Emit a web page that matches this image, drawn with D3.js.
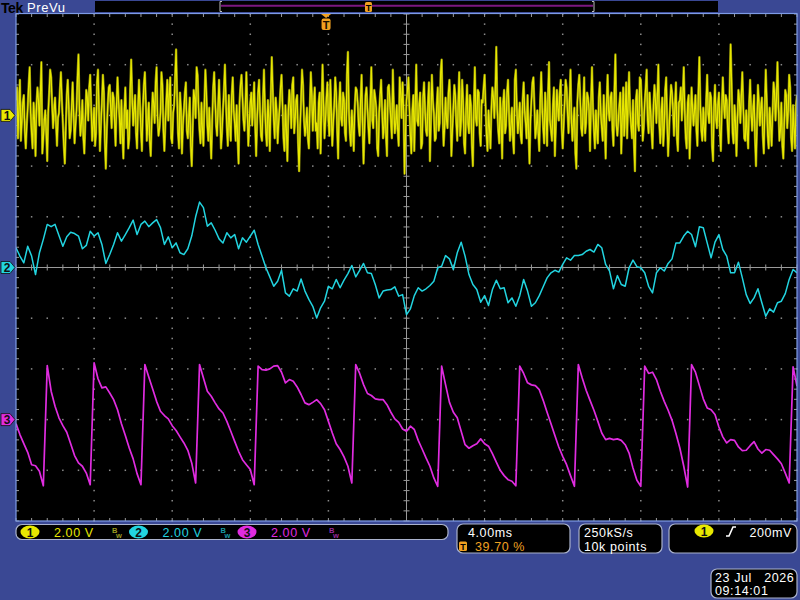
<!DOCTYPE html>
<html>
<head>
<meta charset="utf-8">
<script src="https://cdn.jsdelivr.net/npm/d3@7"></script>
<style>
  body { margin: 0; background: #3a4894; }
  svg { display: block; }
  text { font-family: "Liberation Sans", Arial, sans-serif; white-space: pre; }
</style>
</head>
<body>
<div id="scope"></div>
<script>
// scope settings
const timePerDiv = 4.0;      // ms / div
const triggerPct = 39.70;    // trigger position in record
const voltsPerDiv = 2.0;
const ch1Offset = 3, ch2Offset = 0, ch3Offset = -3;   // divisions
const dtSlow = 0.2, dtFast = 0.05;                     // ms per stored sample

// channel 1 (yellow) noise, 0.05 ms apart, volts
const ch1Volts = [
  0.6,1.1,-0.9,0.3,1.4,-1.0,-0.2,0.5,0.8,-0.6,-1.3,-0.4,0.3,1.2,1.9,0.1,-0.7,-1.3,0.5,-0.2,-1.6,0.4,1.1,0.6,-0.4,0.9,2.1,-1.5,-0.9,-0.2,0.2,-0.7,-1.8,0.1,0.9,1.8,1.5,0.4,-0.5,0.2,
  0.7,-0.3,-1.2,-0.1,0.1,1.0,1.7,0.6,-0.3,-1.2,-1.9,-0.5,0.8,1.4,0.4,-0.9,-0.6,0.3,1.3,0.1,-1.1,-0.4,0.2,1.5,2.4,0.2,-0.8,-0.3,0.6,-0.9,-1.5,-0.2,1.0,0.7,-0.2,1.1,1.6,0.3,-1.0,-0.4,
  0.3,-1.2,-0.7,1.3,1.8,0.2,-1.4,-0.4,0.5,1.6,0.9,-1.0,-2.1,-0.6,0.4,1.1,1.2,0.3,-0.5,0.9,0.7,-0.2,-1.2,0.4,1.5,0.6,-0.1,-1.1,0.6,-0.8,-1.7,0.2,1.1,-0.5,0.2,-1.3,-0.9,1.0,2.2,0.7,
  -0.4,0.2,0.8,-0.7,-1.3,0.3,1.4,0.4,-0.6,-1.4,0.3,1.2,1.7,0.5,-1.0,-0.3,0.5,-1.0,-1.6,-0.2,0.9,0.5,-0.3,1.3,1.9,-0.1,-0.8,-0.5,0.1,1.7,1.2,-0.6,-1.4,-0.3,0.6,1.4,-0.2,0.8,1.5,-0.9,
  -1.1,0.1,0.4,1.5,2.6,0.8,-0.7,-1.3,0.9,0.2,-1.5,-0.4,0.2,0.9,1.3,-0.6,-0.9,-0.1,0.7,-1.2,-2.0,-0.5,1.0,0.7,-0.1,1.9,1.6,0.3,-0.6,-1.1,0.5,-0.6,-1.2,0.5,1.8,0.9,-0.4,-1.0,0.3,-0.8,
  -1.7,-0.2,1.1,1.7,0.6,-0.4,-0.8,0.3,1.4,0.2,-1.3,-0.7,0.2,1.0,2.0,0.6,-0.5,-1.2,0.8,-0.4,-1.0,0.8,1.5,0.2,-0.3,-1.0,0.4,-0.9,-1.9,0.5,1.2,1.6,0.7,-0.2,-0.6,0.4,1.7,0.1,-1.2,-0.3,
  0.5,0.9,-0.4,0.5,1.3,-0.4,-1.6,-0.2,0.9,1.4,0.1,-0.8,-1.0,0.6,1.8,0.3,-0.7,-1.2,0.6,-0.1,-1.4,0.7,2.3,1.0,-0.2,-0.9,0.7,0.2,-1.1,-0.3,0.3,1.1,1.6,0.4,-0.9,-1.4,0.4,-0.6,-1.8,0.2,
  1.0,0.4,-0.5,1.2,1.5,-0.7,-0.1,0.6,0.8,-1.1,-2.2,-0.5,0.6,1.8,1.2,-0.2,-0.8,-0.4,0.3,-0.9,-1.3,0.3,1.7,0.8,-0.6,0.4,1.1,-0.6,-0.3,-1.3,0.5,0.9,-1.5,0.2,2.0,0.5,-0.9,-0.2,0.7,1.3,
  -0.2,-0.8,1.4,0.1,-1.2,-0.3,0.4,1.5,0.9,-0.6,-1.7,0.4,1.3,-0.1,-0.4,0.9,0.6,-0.7,-1.0,1.6,2.5,0.2,-0.7,-1.2,0.2,-0.5,-1.4,0.3,1.1,1.0,0.5,-0.4,-0.8,0.6,1.6,-0.3,-1.9,-0.6,0.8,1.1,
  0.3,-0.5,-1.1,0.6,1.9,-0.2,-0.5,1.0,0.7,0.3,-1.3,-1.6,0.1,0.8,1.4,0.2,-0.9,-0.4,0.6,-0.8,-1.6,1.1,1.2,0.5,-0.2,-0.9,1.8,0.4,-0.7,-0.3,0.4,-0.6,-1.2,1.5,0.9,-0.1,1.3,0.2,-2.3,-0.7,
  0.6,1.0,1.5,0.3,-0.8,-1.5,0.2,0.8,-1.4,0.5,2.0,-0.2,-0.4,0.4,0.9,-1.3,-1.1,0.7,1.3,0.2,-0.6,-0.8,0.5,1.3,-1.8,-0.3,1.6,0.6,0.1,-1.0,-0.9,0.4,1.1,-0.6,-0.3,1.7,2.2,0.1,-1.2,-0.5,
  0.7,-0.2,-0.5,0.9,1.4,0.3,-1.6,-0.6,0.3,1.2,0.8,-0.3,-1.0,0.5,1.7,-0.8,-0.2,1.4,0.6,-1.1,-1.5,0.2,1.2,-0.3,-0.7,0.8,0.4,-1.2,-2.0,0.3,1.9,-0.1,-0.4,1.0,0.9,-0.7,-1.2,0.6,0.5,1.1,
  1.6,0.4,-0.8,-1.4,0.2,-0.5,-1.3,0.3,1.1,0.7,-0.1,1.0,2.7,0.2,-0.6,-1.1,0.7,-0.3,-1.7,0.5,1.0,-0.7,-0.4,0.9,1.4,0.1,-1.0,-0.4,0.3,-0.9,-1.5,1.4,1.8,0.3,-0.7,-0.2,0.5,-0.8,-1.1,0.6,
  1.3,0.2,-0.3,-0.9,0.8,-0.6,-1.9,-0.2,0.6,1.3,1.5,0.4,-0.9,-0.5,0.2,-0.7,-1.4,0.6,1.7,0.3,-0.5,-1.1,0.9,0.1,-1.2,0.8,2.1,-0.2,-0.6,-1.0,0.4,1.1,-1.6,-0.4,1.0,0.3,-0.2,0.9,1.4,-0.5,
  -1.3,-0.4,0.5,1.4,1.1,0.1,-0.7,0.6,1.8,-0.3,-1.0,-0.2,0.3,-1.5,-2.1,0.5,1.2,1.6,0.6,-0.5,-0.8,0.4,1.5,-0.7,-0.3,0.9,0.7,0.2,-1.4,0.5,1.9,0.3,-0.6,-1.3,0.2,-0.6,-1.1,0.7,1.3,0.1,
  -0.5,-1.0,0.8,-0.3,-1.7,0.4,1.6,0.2,-0.2,0.7,0.9,-0.6,-1.2,1.0,2.4,-0.4,-0.8,-0.2,0.4,0.9,-1.5,-0.1,1.1,-0.8,0.1,1.3,-0.9,0.5,1.7,0.2,-0.4,-0.9,0.6,-1.1,-2.2,0.6,1.0,-0.3,-0.6,1.5,
  1.4,0.3,-1.0,-0.5,0.5,1.1,1.8,-0.2,-0.7,0.9,0.2,-0.7,-1.3,0.4,1.2,0.6,-0.3,0.8,2.0,-0.4,-1.1,0.1,0.7,-1.2,-0.5,1.0,1.5,-0.3,-1.6,-0.6,0.4,1.2,0.9,0.2,-0.8,0.4,1.3,-0.9,-1.4,0.5,
  0.6,1.1,-0.2,0.7,1.9,0.2,-0.9,-1.3,0.5,0.8,-1.7,-0.4,1.1,0.3,-0.4,0.2,0.8,-0.6,-1.2,0.9,2.3,0.4,-0.6,-1.0,0.3,-0.5,-1.0,0.6,1.6,0.1,-0.3,0.9,0.7,-1.2,-1.8,0.3,1.2,-0.1,-0.5,0.4,
  0.9,-0.6,-1.4,0.2,1.5,0.5,-0.1,0.8,0.6,-0.5,-1.1,0.9,2.8,1.3,-0.7,-1.1,0.4,-0.3,-1.6,-0.2,1.0,0.6,-0.3,0.8,1.7,0.3,-0.9,-1.0,0.2,-0.7,-1.3,0.5,1.4,0.1,-0.6,0.2,0.8,-0.9,-2.0,-0.4,
  1.2,0.5,-0.4,0.3,0.7,-0.8,-1.5,0.2,1.8,0.6,-0.8,-1.3,0.3,-0.4,-1.2,0.1,1.3,0.9,-0.2,0.7,2.1,0.4,-1.0,-0.6,0.5,-1.2,-1.7,-0.2,1.0,0.8,-0.5,0.2,1.6,1.1,-0.9,-1.4,0.4,-0.5,-1.3,0.4,
  0.8
];

// channel 2 (cyan) wander, 0.2 ms apart, volts
const ch2Volts = [
  0.78,0.45,0.18,0.84,0.45,-0.28,0.58,1.11,1.70,1.61,
  1.70,1.26,0.84,1.21,1.39,1.34,1.24,0.74,0.87,1.43,
  1.24,1.37,0.91,0.16,0.51,0.91,1.37,1.04,1.30,1.57,
  1.87,1.30,1.70,1.83,1.61,1.76,1.89,1.57,0.91,1.21,
  0.78,0.97,0.58,0.51,0.74,1.24,2.00,2.58,2.36,1.63,
  1.76,1.47,1.13,0.97,1.37,1.17,1.30,0.74,1.17,1.00,
  1.24,1.47,0.91,0.45,-0.01,-0.37,-0.74,-0.54,-0.11,-1.00,
  -1.13,-0.84,-0.93,-0.45,-0.93,-1.26,-1.53,-1.99,-1.59,-1.33,
  -0.74,-0.84,-0.47,-0.80,-0.50,-0.24,0.08,-0.37,-0.11,0.16,
  -0.21,-0.24,-0.67,-1.20,-0.93,-0.89,-0.87,-0.76,-1.13,-1.07,
  -1.86,-1.63,-1.11,-0.80,-0.93,-0.84,-0.71,-0.54,-0.01,0.05,
  0.47,0.34,-0.08,0.58,1.00,0.45,-0.28,-0.67,-0.87,-1.37,
  -1.11,-1.50,-0.87,-0.50,-0.84,-0.80,-1.39,-1.20,-1.53,-1.11,
  -0.47,-0.93,-1.53,-1.39,-1.11,-0.76,-0.41,-0.21,-0.11,-0.18,
  0.12,0.38,0.29,0.47,0.47,0.51,0.64,0.71,0.61,0.91,
  0.78,0.12,-0.14,-0.84,-0.32,-0.67,-0.74,-0.01,0.29,0.03,
  -0.01,-0.21,-0.74,-1.00,-0.21,-0.01,-0.14,0.16,0.34,0.97,
  0.97,1.24,1.43,1.30,0.82,1.61,1.57,0.97,0.38,1.00,
  1.30,0.71,0.45,-0.21,-0.21,0.21,-0.41,-1.07,-1.42,-1.20,
  -0.84,-1.39,-1.92,-1.63,-1.76,-1.39,-1.33,-1.03,-0.47,-0.08,
  -0.21
];

// channel 3 (magenta) sawtooth, 0.2 ms apart, volts
const ch3Volts = [
  -0.16,-0.59,-0.95,-1.29,-1.78,-1.82,-2.04,-2.61,2.13,1.12,
  0.53,0.07,-0.24,-0.50,-0.95,-1.42,-1.71,-1.84,-2.11,-2.57,
  2.24,1.61,1.25,1.29,1.05,0.79,0.39,-0.16,-0.63,-1.12,
  -1.55,-2.13,-2.57,2.17,1.68,1.21,0.72,0.33,0.16,0.03,
  -0.24,-0.43,-0.68,-0.92,-1.21,-1.71,-2.50,2.17,1.64,1.12,
  0.92,0.66,0.42,0.26,-0.07,-0.46,-0.86,-1.25,-1.58,-1.78,
  -1.97,-2.57,2.11,1.97,1.95,2.00,2.11,2.13,1.87,1.45,
  1.58,1.51,1.29,0.99,0.66,0.59,0.68,0.79,0.63,0.39,
  -0.07,-0.53,-0.95,-1.18,-1.47,-1.84,-2.50,2.17,1.82,1.38,
  1.03,0.95,0.82,0.79,0.79,0.59,0.29,0.03,-0.11,-0.37,
  -0.46,-0.26,-0.39,-0.82,-1.16,-1.51,-1.84,-2.30,-2.63,2.11,
  1.38,0.68,0.29,0.07,-0.46,-0.99,-1.13,-1.03,-0.95,-0.76,
  -0.95,-1.05,-1.34,-1.68,-2.00,-2.21,-2.37,-2.43,-2.61,2.11,
  1.82,1.45,1.37,1.34,1.18,0.76,0.29,-0.16,-0.63,-1.08,
  -1.45,-1.78,-2.21,-2.63,2.17,1.64,1.16,0.76,0.37,-0.07,
  -0.53,-0.79,-0.74,-0.79,-0.76,-0.82,-0.99,-1.32,-1.91,-2.39,
  -2.63,2.11,1.82,1.87,1.58,1.12,0.72,0.37,-0.03,-0.55,
  -1.12,-1.84,-2.66,2.17,1.87,1.34,0.82,0.46,0.39,0.20,
  -0.29,-0.68,-0.92,-0.79,-0.82,-1.08,-1.22,-1.21,-1.03,-0.87,
  -1.16,-1.32,-1.18,-1.21,-1.38,-1.55,-1.74,-2.11,-2.50,2.08,
  1.32
];

const chanNames = ["1", "2", "3"];
const chanScales = ["2.00 V", "2.00 V", "2.00 V"];
const chanColors = ["#e8e800", "#22d4e0", "#e02ce0"];
const bwColors = ["#9a9a20", "#1a9aa4", "#9a2a9a"];
const timebaseLabel = "4.00ms";
const trigPosLabel = "39.70 %";
const sampleLabels = ["250kS/s", "10k points"];
const trigLevelLabel = "200mV";
const dateLabels = ["23 Jul   2026", "09:14:01"];

const width = 800, height = 600;
const gLeft = 16, gRight = 797, gTop = 14, gBottom = 521;

const tStart = -triggerPct / 100 * 10 * timePerDiv;
const x = d3.scaleLinear().domain([tStart, tStart + 10 * timePerDiv]).range([gLeft, gRight]);
const y = d3.scaleLinear().domain([-5, 5]).range([gBottom, gTop]);   // divisions

const svg = d3.select("#scope").append("svg")
  .attr("width", width).attr("height", height);

svg.append("rect").attr("width", width).attr("height", height).attr("fill", "#3a4894");

// ---- top bar
svg.append("text").attr("x", 1).attr("y", 13).attr("font-size", 14).attr("font-weight", "bold")
  .attr("fill", "#000").attr("letter-spacing", -0.4).text("Tek");
svg.append("text").attr("x", 27).attr("y", 11.5).attr("font-size", 13)
  .attr("fill", "#fff").attr("letter-spacing", 0.6).text("PreVu");
svg.append("rect").attr("x", 95).attr("y", 1).attr("width", 623).attr("height", 11).attr("fill", "#000");
svg.append("line").attr("x1", 221).attr("x2", 593).attr("y1", 5.8).attr("y2", 5.8)
  .attr("stroke", "#7c1880").attr("stroke-width", 2);
[220, 594].forEach((bx, k) => {
  svg.append("path")
    .attr("d", k === 0 ? `M${bx + 2},1.5 H${bx} V11.5 H${bx + 2}` : `M${bx - 2},1.5 H${bx} V11.5 H${bx - 2}`)
    .attr("fill", "none").attr("stroke", "#bbb").attr("stroke-width", 1);
});
const recX = 220 + triggerPct / 100 * (594 - 220);
svg.append("rect").attr("x", recX - 3.5).attr("y", 2).attr("width", 7).attr("height", 10).attr("rx", 1.5).attr("fill", "#f0a020");
svg.append("text").attr("x", recX).attr("y", 10.5).attr("text-anchor", "middle").attr("font-size", 9)
  .attr("font-weight", "bold").attr("fill", "#000").text("T");

// ---- graticule
svg.append("rect").attr("x", gLeft).attr("y", gTop).attr("width", gRight - gLeft).attr("height", gBottom - gTop)
  .attr("fill", "#000");

const g = svg.append("g");
const divX = d => gLeft + (gRight - gLeft) * d / 10;
const minorX = d3.range(0, 50.5).map(m => m / 5);     // 0..10 by 0.2
const minorY = d3.range(0, 50.5).map(m => -5 + m / 5); // -5..5 by 0.2
const dotColor = "#8c8c8c";

// dotted major lines
d3.range(1, 10).filter(k => k !== 5).forEach(k => {
  g.selectAll(null).data(minorY).enter().append("rect")
    .attr("x", divX(k) - 0.75).attr("y", d => y(d) - 0.75)
    .attr("width", 1.5).attr("height", 1.5).attr("fill", dotColor);
});
d3.range(-4, 5).filter(k => k !== 0).forEach(k => {
  g.selectAll(null).data(minorX).enter().append("rect")
    .attr("x", d => divX(d) - 0.75).attr("y", y(k) - 0.75)
    .attr("width", 1.5).attr("height", 1.5).attr("fill", dotColor);
});

// centre cross with minor ticks
const cx = divX(5), cy = y(0);
g.append("line").attr("x1", gLeft).attr("x2", gRight).attr("y1", cy).attr("y2", cy).attr("stroke", "#9a9a9a");
g.append("line").attr("x1", cx).attr("x2", cx).attr("y1", gTop).attr("y2", gBottom).attr("stroke", "#9a9a9a");
g.selectAll(null).data(minorX).enter().append("line")
  .attr("x1", d => divX(d)).attr("x2", d => divX(d)).attr("y1", cy - 3).attr("y2", cy + 3).attr("stroke", "#9a9a9a");
g.selectAll(null).data(minorY).enter().append("line")
  .attr("x1", cx - 3).attr("x2", cx + 3).attr("y1", d => y(d)).attr("y2", d => y(d)).attr("stroke", "#9a9a9a");

// edge ticks
g.selectAll(null).data(minorX).enter().append("line")
  .attr("x1", d => divX(d)).attr("x2", d => divX(d)).attr("y1", gTop).attr("y2", gTop + 3).attr("stroke", "#9a9a9a");
g.selectAll(null).data(minorX).enter().append("line")
  .attr("x1", d => divX(d)).attr("x2", d => divX(d)).attr("y1", gBottom - 3).attr("y2", gBottom).attr("stroke", "#9a9a9a");
g.selectAll(null).data(minorY).enter().append("line")
  .attr("x1", gLeft).attr("x2", gLeft + 3).attr("y1", d => y(d)).attr("y2", d => y(d)).attr("stroke", "#9a9a9a");
g.selectAll(null).data(minorY).enter().append("line")
  .attr("x1", gRight - 3).attr("x2", gRight).attr("y1", d => y(d)).attr("y2", d => y(d)).attr("stroke", "#9a9a9a");

// ---- traces
svg.append("clipPath").attr("id", "clip").append("rect")
  .attr("x", gLeft).attr("y", gTop).attr("width", gRight - gLeft).attr("height", gBottom - gTop);
const traces = svg.append("g").attr("clip-path", "url(#clip)");

function trace(values, dt, offset, color, w) {
  const line = d3.line()
    .x((d, i) => x(tStart + i * dt))
    .y(d => y(offset + d / voltsPerDiv));
  traces.append("path").datum(values).attr("d", line)
    .attr("fill", "none").attr("stroke", color).attr("stroke-width", w).attr("stroke-linejoin", "round");
}
trace(ch1Volts, dtFast, ch1Offset, "#86860a", 2.4);
trace(ch1Volts, dtFast, ch1Offset, chanColors[0], 1.2);
trace(ch2Volts, dtSlow, ch2Offset, chanColors[1], 1.5);
trace(ch3Volts, dtSlow, ch3Offset, chanColors[2], 1.7);

// frame
svg.append("rect").attr("x", gLeft).attr("y", gTop - 0.5).attr("width", gRight - gLeft).attr("height", gBottom - gTop + 0.5)
  .attr("fill", "none").attr("stroke", "#7d9be6").attr("stroke-width", 1.2);

// trigger marker
const tx = x(0);
svg.append("path").attr("d", `M${tx - 5},${gTop} H${tx + 5} L${tx},${gTop + 4} Z`).attr("fill", "#f0a020");
svg.append("rect").attr("x", tx - 4.5).attr("y", gTop + 4.5).attr("width", 9).attr("height", 11.5).attr("rx", 2)
  .attr("fill", "#f0a020");
svg.append("text").attr("x", tx).attr("y", gTop + 14.5).attr("text-anchor", "middle").attr("font-size", 11)
  .attr("font-weight", "bold").attr("fill", "#1a1000").text("T");

// channel ground markers
[ch1Offset, ch2Offset, ch3Offset].forEach((off, k) => {
  const my = y(off);
  svg.append("path").attr("d", `M1,${my - 6} H10 L15,${my} L10,${my + 6} H1 Z`)
    .attr("fill", chanColors[k]).attr("stroke", "#101010").attr("stroke-width", 0.8);
  svg.append("text").attr("x", 7).attr("y", my + 4.5).attr("text-anchor", "middle").attr("font-size", 12)
    .attr("font-weight", "bold").attr("fill", "#101010").text(chanNames[k]);
});

// ---- bottom readouts
function box(x0, y0, w, h) {
  svg.append("rect").attr("x", x0).attr("y", y0).attr("width", w).attr("height", h).attr("rx", 6)
    .attr("fill", "#000").attr("stroke", "#aab2cc").attr("stroke-width", 1.2);
}
function label(tx0, ty0, str, color, anchor) {
  svg.append("text").attr("x", tx0).attr("y", ty0).attr("font-size", 12.5).attr("letter-spacing", 0.6)
    .attr("text-anchor", anchor || "start").attr("fill", color).text(str);
}
function badge(bx, by, k) {
  svg.append("ellipse").attr("cx", bx).attr("cy", by).attr("rx", 9.5).attr("ry", 6.5).attr("fill", chanColors[k]);
  svg.append("text").attr("x", bx).attr("y", by + 4.5).attr("text-anchor", "middle").attr("font-size", 12)
    .attr("font-weight", "bold").attr("fill", "#101010").text(chanNames[k]);
}

box(16, 524.5, 432, 15);
[30, 138.5, 247].forEach((bx, k) => {
  badge(bx, 532, k);
  label(bx + 24, 537, chanScales[k], chanColors[k]);
  const bw = svg.append("text").attr("x", bx + 82).attr("y", 533).attr("font-size", 7.5)
    .attr("font-weight", "bold").attr("fill", bwColors[k]);
  bw.append("tspan").text("B");
  bw.append("tspan").attr("dx", -1.5).attr("dy", 4.5).text("w");
});

box(457, 524, 113, 29);
label(468, 536.5, timebaseLabel, "#fff");
svg.append("rect").attr("x", 459).attr("y", 541.5).attr("width", 8).attr("height", 9.5).attr("rx", 1.5).attr("fill", "#f0a020");
svg.append("text").attr("x", 463).attr("y", 550).attr("text-anchor", "middle").attr("font-size", 9)
  .attr("font-weight", "bold").attr("fill", "#000").text("T");
label(475, 550.5, trigPosLabel, "#f0a020");

box(579, 524, 83, 29);
label(584, 536.5, sampleLabels[0], "#fff");
label(584, 550.5, sampleLabels[1], "#fff");

box(669, 524, 128, 29);
badge(704, 531, 0);
svg.append("path").attr("d", "M726,536 H729 L733,527 H736").attr("fill", "none").attr("stroke", "#fff").attr("stroke-width", 1.6);
label(792, 536.5, trigLevelLabel, "#fff", "end");

box(711, 569, 86, 29);
label(715, 581.5, dateLabels[0], "#fff");
label(715, 595, dateLabels[1], "#fff");
</script>
</body>
</html>
